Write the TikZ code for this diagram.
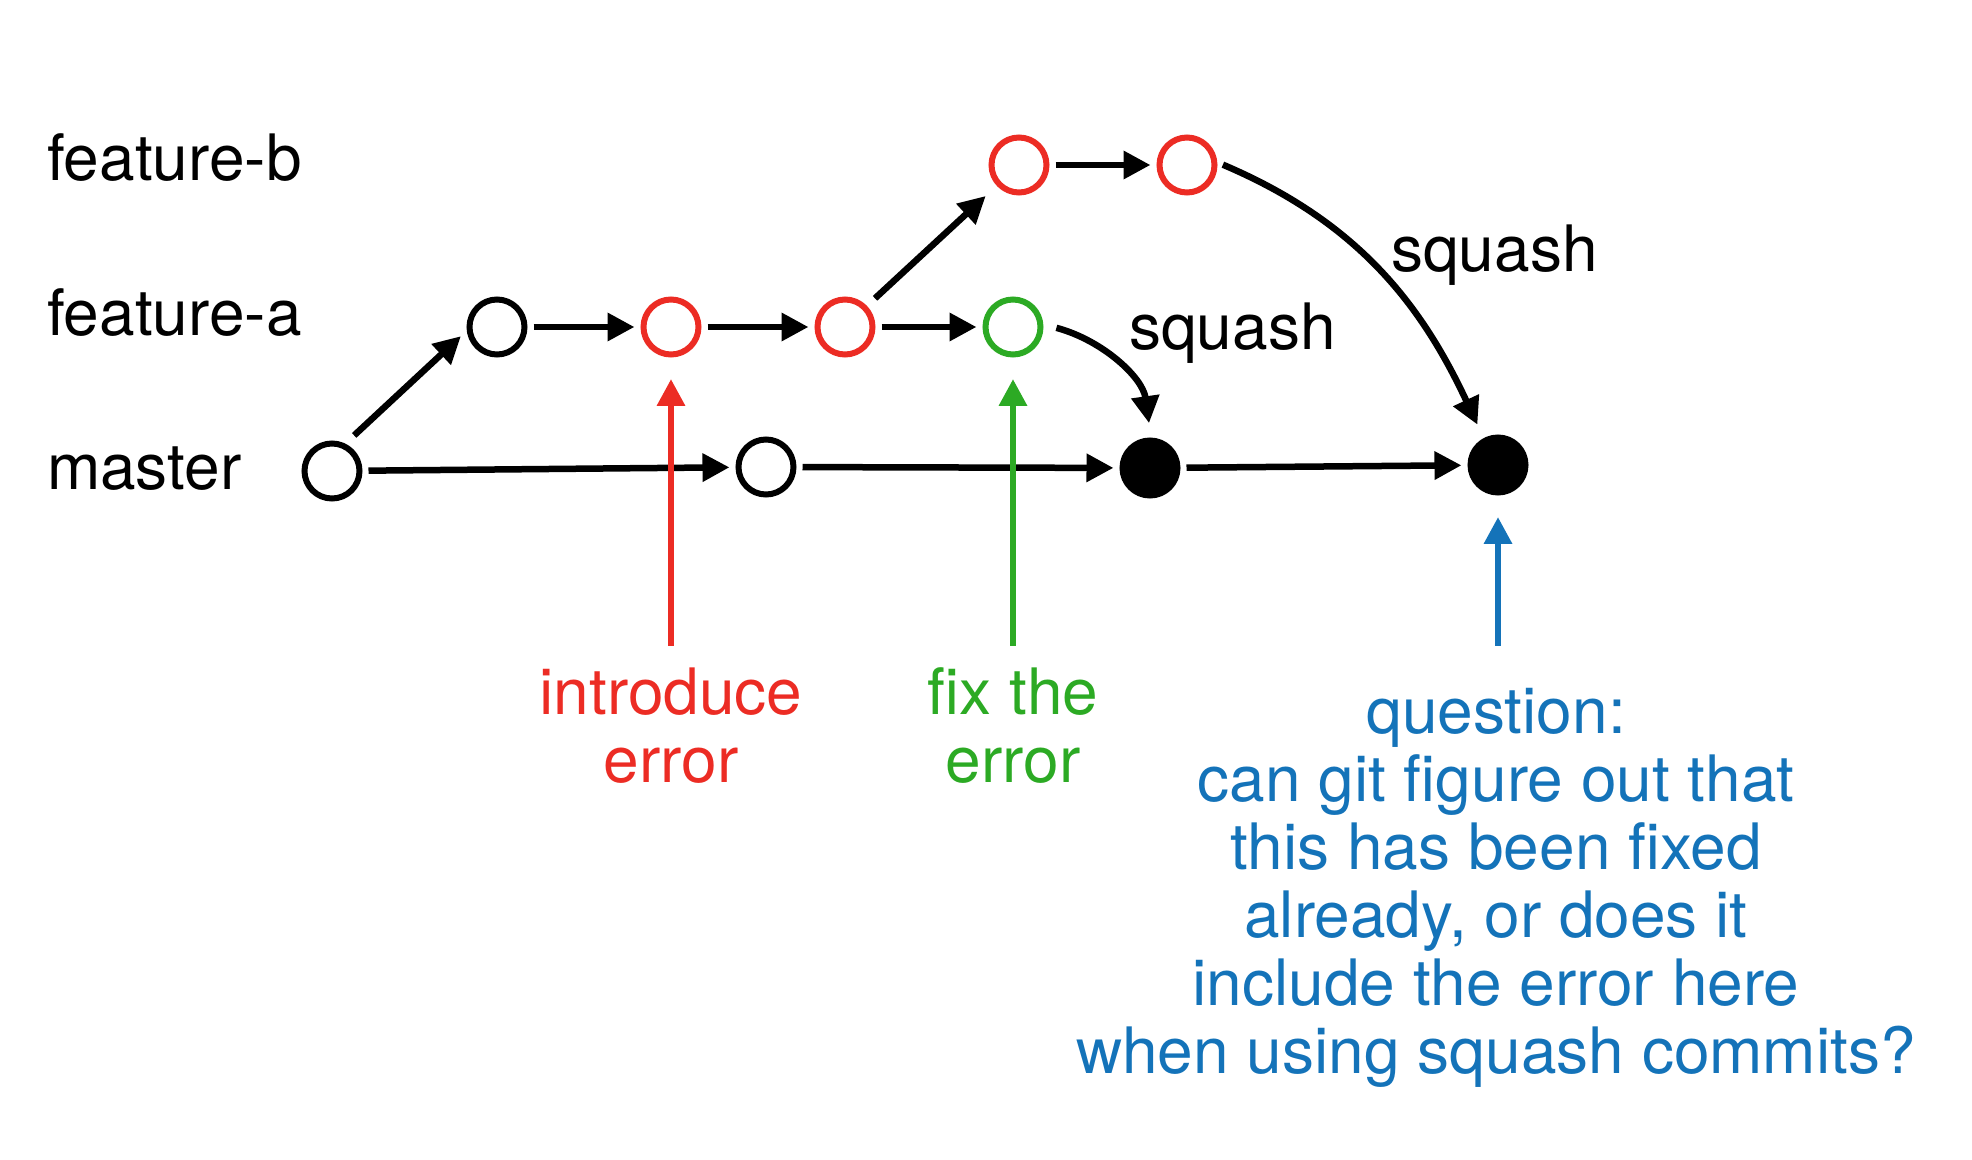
\documentclass[tikz,border=0pt]{standalone}
\usepackage{fontspec}
\setmainfont{TeX Gyre Heros}
\usetikzlibrary{arrows.meta}
\definecolor{cred}{RGB}{236,44,36}
\definecolor{cgreen}{RGB}{44,170,36}
\definecolor{cblue}{RGB}{20,115,185}
\newcommand\lblfont{\fontsize{32}{34}\selectfont}
\begin{document}
\begin{tikzpicture}[x=0.5pt,y=-0.5pt,
  commit/.style={circle,draw,line width=3pt,minimum size=27.5pt,inner sep=0pt},
  squashed/.style={commit,fill=black},
  arr/.style={line width=3.25pt,-{Triangle[length=13.5pt,width=13.5pt]},shorten <=3pt,shorten >=3pt},
  note/.style={line width=3.2pt,-{Triangle[length=13.5pt,width=13.5pt]}},
  lbl/.style={font=\lblfont,inner sep=0pt,outer sep=0pt},
  ]
\useasboundingbox (0,0) rectangle (1972,1160);
% branch labels
\node[lbl,anchor=base west] (lb) at (47,181) {feature-b};
\node[lbl,anchor=base west] (la) at (47,336) {feature-a};
\node[lbl,anchor=base west] (lm) at (47,490) {master};
% commits
\node[commit] (m0) at (332,471) {};
\node[commit] (m1) at (766,467) {};
\node[squashed] (b1) at (1150,468) {};
\node[squashed] (b2) at (1498,465) {};
\node[commit] (fa0) at (497,327) {};
\node[commit,cred] (r1) at (671,327) {};
\node[commit,cred] (r2) at (845,327) {};
\node[commit,cgreen] (g) at (1013,327) {};
\node[commit,cred] (fb0) at (1019,165) {};
\node[commit,cred] (fb1) at (1187,165) {};
% connectors
\draw[arr] (m0) -- (m1);
\draw[arr] (m1) -- (b1);
\draw[arr] (b1) -- (b2);
\draw[arr,shorten <=6pt,shorten >=4pt] (m0.64) -- (fa0.187);
\draw[arr] (fa0) -- (r1);
\draw[arr] (r1) -- (r2);
\draw[arr] (r2) -- (g);
\draw[arr,shorten <=5.5pt,shorten >=7.5pt] (r2.44) -- (fb0.223);
\draw[arr] (fb0) -- (fb1);
\draw[arr,shorten <=6.75pt,shorten >=7.25pt] (g.5) to[out=-15,in=98] (b1.88);
\draw[arr,shorten <=3pt,shorten >=7.4pt] (fb1.5) to[out=-23,in=115] (b2.118);
\node[lbl,anchor=base west] (sq1) at (1129,350) {squash};
\node[lbl,anchor=base west] (sq2) at (1391,272) {squash};
% annotations
\coordinate (rb) at (671,646);
\coordinate (gb) at (1013,646);
\coordinate (bb) at (1498,646);
\draw[note,cred,shorten >=10.75pt] (rb) -- (r1);
\draw[note,cgreen,shorten >=10.75pt] (gb) -- (g);
\draw[note,cblue,shorten >=10.75pt] (bb) -- (b2);
\node[lbl,cred,align=center,anchor=base] (t1) at (671,782) {introduce\\error};
\node[lbl,cgreen,align=center,anchor=base] (t2) at (1013,782) {fix the\\error};
\node[lbl,cblue,align=center,anchor=base] (t3) at (1496,1073) {question:\\can git figure out that\\this has been fixed\\already, or does it\\include the error here\\when using squash commits?};
\end{tikzpicture}
\end{document}
